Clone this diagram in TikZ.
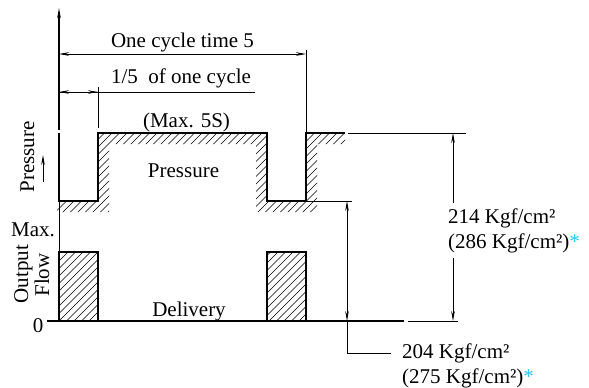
\documentclass[tikz,border=0pt]{standalone}
\usepackage{fontspec}
\setmainfont{Liberation Serif}
\usetikzlibrary{arrows.meta}
\definecolor{astc}{RGB}{40,200,235}
\begin{document}
\begin{tikzpicture}[x=1bp,y=-1bp,
  wave/.style={line width=1.8bp, line join=miter},
  flowbox/.style={line width=1.5bp},
  dim/.style={line width=0.8bp},
  arr/.style={-{Stealth[length=10bp,width=3.6bp]}},
  lbl/.style={font=\fontsize{21bp}{25bp}\selectfont, inner sep=0pt},
  hatch/.style={line width=0.6bp}]
\useasboundingbox (0,0) rectangle (589,387);
% key coordinates
\coordinate (ax0) at (59,130);
\coordinate (axtop) at (59,8);
\coordinate (lowL) at (59,201);
\coordinate (r1) at (98,133);
\coordinate (r2) at (306,133);
\coordinate (hi) at (345,133);
\coordinate (base0) at (59,321);
% pressure hatch band
\begin{scope}
\clip (59,201) -- (98,201) -- (98,133) -- (267,133) -- (267,201) -- (306,201) -- (306,133) -- (345,133) -- (345,144) -- (317,144) -- (317,212) -- (256,212) -- (256,144) -- (109,144) -- (109,212) -- (57,212) -- cycle;
\foreach \i in {-60,-52.5,...,400} \draw[hatch] (\i,230) -- ++(110,-110);
\end{scope}
% flow hatch
\begin{scope}
\clip (59,252) rectangle (98,321) (267,252) rectangle (306,321);
\foreach \i in {-40,-32.5,...,320} \draw[hatch] (\i,330) -- ++(90,-90);
\end{scope}
% waveforms
\draw[wave] (59,133) -- (lowL) -- (98,201) -- (r1) -- (267,133) -- (267,201) -- (306,201) -- (r2) -- (hi);
\draw[flowbox] (59,252) rectangle (98,321);
\draw[flowbox] (267,252) rectangle (306,321);
\draw[line width=1.2bp] (47,321) -- (404,321);
\draw[dim] (408,321) -- (458,321);
% axis
\draw[line width=1.5bp, arr] (ax0) -- (axtop);
\draw[dim] (lowL) -- (59,252);
% extension lines
\draw[dim] (98,87) -- (98,128);
\draw[dim] (306,50) -- (r2);
\draw[dim] (306,201) -- (352,201);
\draw[dim] (348,133) -- (466,133);
% dimension: one cycle
\draw[dim, {Stealth[length=10bp,width=3.6bp]}-{Stealth[length=10bp,width=3.6bp]}] (59,54) -- (306,54);
% dimension: 1/5
\draw[dim] (59,92) -- (255,92);
\draw[dim, arr] (78,92) -- (59,92);
\draw[dim, arr] (80,92) -- (98,92);
% dimension 214
\draw[dim, arr] (453,203) -- (453,133);
\draw[dim, arr] (453,258) -- (453,321);
% dimension 204
\draw[dim, arr] (347,260) -- (347,201);
\draw[dim, arr] (347,260) -- (347,321);
\draw[dim] (347,321) -- (347,353) -- (391,353);
% small pressure arrow
\draw[dim, arr] (43,182) -- (43,155);
% texts
\node[lbl, anchor=base] (t1) at (182.5,47) {One cycle time 5};
\node[lbl, anchor=base] (t2) at (181,83) {1/5\ \ of one cycle};
\node[lbl, anchor=base] (t3) at (186.5,127) {(Max. 5S)};
\node[lbl, anchor=base] (t4) at (183.5,177) {Pressure};
\node[lbl, anchor=base] (t5) at (189,316) {Delivery};
\node[lbl, anchor=base, rotate=90] (t6) at (34,157) {Pressure};
\node[lbl, anchor=base] (t7) at (33,236) {Max.};
\node[lbl, anchor=base, rotate=90] (t8) at (28,274) {Output};
\node[lbl, anchor=base, rotate=90] (t9) at (49,275) {Flow};
\node[lbl, anchor=base] (t0) at (38,332) {0};
\node[lbl, anchor=base west] (d1) at (448,223) {214 Kgf/cm²};
\node[lbl, anchor=base west] (d2) at (448,248) {(286 Kgf/cm²)\textcolor{astc}{*}};
\node[lbl, anchor=base west] (d3) at (402,358) {204 Kgf/cm²};
\node[lbl, anchor=base west] (d4) at (402,383) {(275 Kgf/cm²)\textcolor{astc}{*}};
\end{tikzpicture}
\end{document}
